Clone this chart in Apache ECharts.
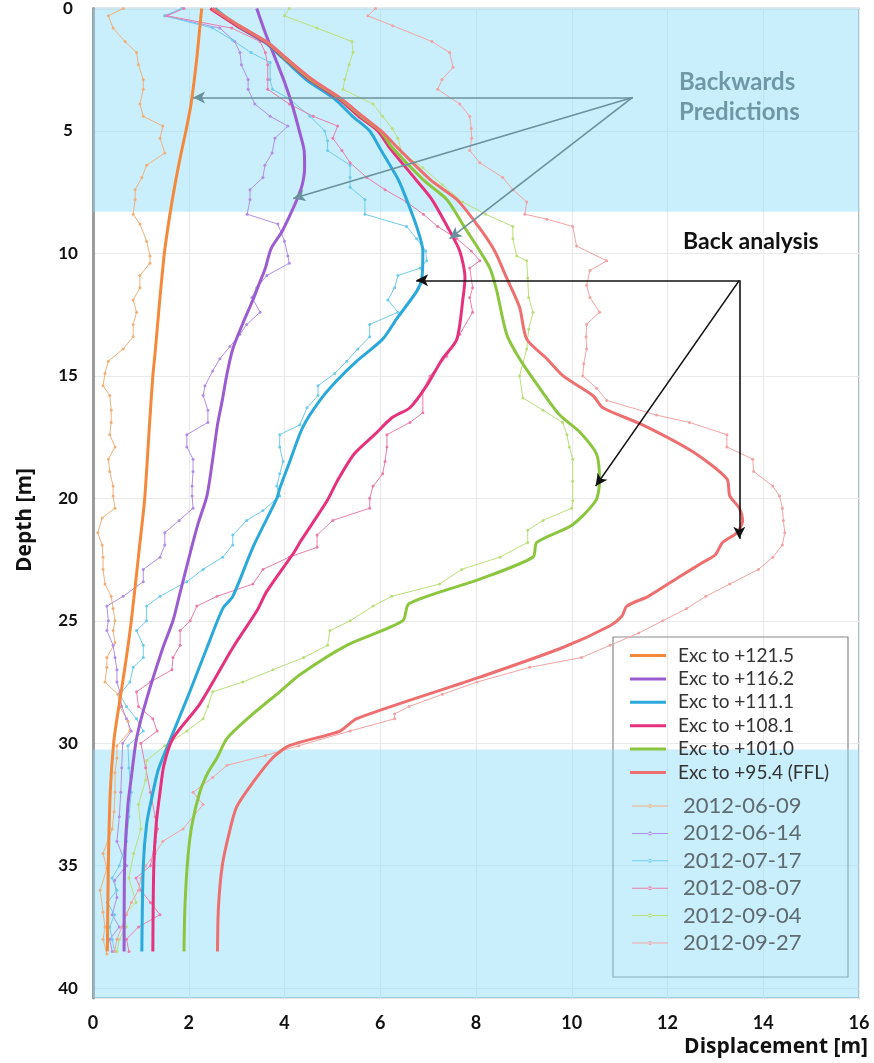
<!DOCTYPE html>
<html>
<head>
<meta charset="utf-8">
<script src="https://cdn.jsdelivr.net/npm/echarts@6/dist/echarts.min.js"></script>
<style>
  html, body { margin: 0; padding: 0; background: #fff; }
  #chart { width: 874px; height: 1063px; }
</style>
</head>
<body>
<div id="chart"></div>
<script>
// Axis ticks
const dispTicks = [0, 2, 4, 6, 8, 10, 12, 14, 16];
const depthTicks = [0, 5, 10, 15, 20, 25, 30, 35, 40];

// Model profiles after each excavation stage: [displacement m, depth m]
const exc1215 = [[2.27,0],[2.22,1],[2.17,2],[2.11,3],[2.04,4],[1.94,5],[1.83,6],[1.73,7],[1.64,8],[1.56,9],[1.49,10],[1.39,12],[1.30,14],[1.25,15],[1.18,17],[1.08,20],[0.97,22],[0.80,25],[0.66,27],[0.50,29],[0.43,30],[0.36,32],[0.32,35],[0.30,38.5]];
const exc1162 = [[3.42,0],[3.6,1],[3.8,2],[4.0,3],[4.17,4],[4.31,5],[4.41,5.8],[4.42,6.5],[4.37,7.2],[4.26,7.8],[4.1,8.5],[3.95,9.1],[3.72,9.8],[3.6,10.6],[3.48,11.2],[3.34,11.9],[3.12,12.9],[2.92,13.9],[2.8,14.9],[2.7,16],[2.6,17],[2.5,18.4],[2.38,19.9],[2.2,21],[2.06,22],[1.8,24],[1.67,25],[1.46,26.1],[1.12,28.2],[0.91,29.8],[0.8,31.4],[0.73,32.5],[0.66,35],[0.65,38.5]];
const exc1111 = [[2.55,0],[3.0,0.7],[3.6,1.4],[3.95,2],[4.45,2.9],[5.05,3.7],[5.42,4.4],[5.78,5],[6.02,5.8],[6.38,7],[6.55,7.8],[6.76,8.9],[6.89,9.9],[6.87,11],[6.76,11.55],[6.35,12.65],[6.05,13.5],[5.51,14.4],[5.09,15.2],[4.74,16],[4.38,17.1],[4.11,18.5],[3.9,19.6],[3.84,20],[3.34,22],[2.92,24],[2.71,24.5],[2.38,26.1],[1.96,28.2],[1.54,30.2],[1.36,31.1],[1.22,32.3],[1.12,33.3],[1.05,35],[1.02,38.5]];
const exc1081 = [[2.45,0],[3.0,0.7],[3.62,1.4],[3.98,2],[4.52,2.9],[5.14,3.7],[5.55,4.4],[5.95,5],[6.2,5.7],[6.75,7],[7.08,7.8],[7.4,8.9],[7.66,9.9],[7.77,11],[7.73,11.8],[7.6,13.5],[7.3,14.3],[6.97,15.4],[6.62,16.3],[6.25,16.7],[5.88,17.4],[5.45,18.2],[5.1,19.3],[4.89,20.1],[4.32,21.8],[4.2,22.2],[3.63,23.8],[3.42,24.6],[2.92,26.1],[2.23,28.4],[1.67,29.8],[1.48,30.9],[1.4,32],[1.32,33.3],[1.27,35],[1.25,38.5]];
const exc1010 = [[2.5,0],[3.05,0.7],[3.65,1.4],[4.0,2],[4.55,2.9],[5.18,3.7],[5.6,4.4],[6.0,5],[6.26,5.7],[6.9,7],[7.39,7.8],[7.75,8.9],[8.08,9.9],[8.29,10.6],[8.43,11.5],[8.64,13.3],[8.91,14.3],[9.33,15.5],[9.75,16.6],[10.17,17.3],[10.52,18.2],[10.58,19.3],[10.5,20.1],[10.0,21.1],[9.27,21.8],[9.19,22.4],[8.08,23.3],[6.6,24.3],[6.47,25],[5.3,26],[4.32,27.2],[3.9,27.9],[3.28,28.9],[2.8,29.8],[2.59,30.6],[2.4,31.2],[2.23,32],[2.07,33.3],[1.98,34.7],[1.92,36.7],[1.9,38.5]];
const exc954 = [[2.5,0],[3.05,0.7],[3.66,1.4],[4.02,2],[4.58,2.9],[5.2,3.7],[5.63,4.4],[6.02,5],[6.37,5.7],[7.05,7],[7.6,7.8],[8.05,8.9],[8.39,9.9],[8.64,11],[8.91,12.2],[9.06,13.5],[9.48,14.3],[9.82,15],[10.44,15.8],[10.65,16.3],[11.48,17],[12.53,18.1],[13.24,19.2],[13.3,19.9],[13.5,20.4],[13.57,20.9],[13.45,21.4],[13.15,21.8],[13.0,22.3],[12.75,22.6],[12.25,23.2],[11.6,24],[11.15,24.4],[11.05,24.8],[10.8,25.2],[9.8,26.1],[8.08,27.3],[5.5,29],[5.16,29.5],[4.1,30.1],[3.75,30.6],[3.34,31.6],[3.0,32.6],[2.84,33.7],[2.7,35],[2.62,36.7],[2.6,38.5]];

// Inclinometer readings: [displacement m, depth m]
const m0609 = [[0.63,0],[0.32,0.3],[0.42,0.8],[0.67,1.35],[0.91,1.8],[0.95,2.3],[1.05,2.9],[1.05,3.3],[0.98,3.9],[1.05,4.4],[1.46,4.8],[1.4,5.3],[1.5,5.9],[1.12,6.4],[1.02,6.9],[0.88,7.4],[0.88,7.8],[0.84,8.4],[0.98,8.8],[1.12,9.5],[1.19,10.1],[1.19,10.4],[0.98,10.9],[0.98,11.4],[0.84,11.9],[0.91,12.4],[0.84,12.9],[0.84,13.4],[0.63,13.9],[0.32,14.4],[0.25,14.9],[0.21,15.4],[0.35,15.8],[0.38,16.4],[0.38,16.9],[0.35,17.4],[0.46,17.9],[0.32,18.4],[0.35,18.9],[0.42,19.5],[0.42,19.9],[0.46,20.4],[0.19,20.8],[0.1,21.4],[0.19,21.9],[0.21,22.4],[0.21,22.9],[0.25,23.5],[0.38,24],[0.42,24.5],[0.46,25],[0.42,25.4],[0.46,25.9],[0.29,26.5],[0.29,26.9],[0.25,27.5],[0.52,28],[0.56,28.5],[0.73,29.1],[0.77,29.5],[0.5,30.1],[0.5,30.6],[0.46,31.2],[0.46,32],[0.44,32.8],[0.4,33.5],[0.21,34.5],[0.29,35.1],[0.15,36],[0.21,36.9],[0.25,37.5],[0.21,38],[0.29,38.6]];
const m0614 = [[1.86,0],[1.5,0.3],[2.65,0.8],[2.96,1.35],[3.07,1.8],[3.1,2.3],[3.24,2.9],[3.24,3.3],[3.38,3.9],[3.7,4.4],[4.07,4.8],[3.8,5.3],[3.74,5.9],[3.59,6.4],[3.55,6.9],[3.28,7.4],[3.28,7.8],[3.22,8.4],[3.86,8.8],[4.0,9.5],[4.07,10.1],[4.1,10.4],[3.63,10.9],[3.42,11.4],[3.32,11.8],[3.49,12.4],[3.21,12.9],[3.07,13.3],[2.86,13.8],[2.65,14.3],[2.5,14.8],[2.34,15.4],[2.3,15.8],[2.4,16.4],[2.4,16.9],[1.96,17.4],[1.96,17.9],[2.09,18.4],[2.09,18.9],[2.07,19.5],[2.07,19.9],[2.09,20.4],[1.8,20.9],[1.5,21.4],[1.5,21.9],[1.4,22.4],[1.05,22.9],[1.05,23.4],[0.63,24],[0.29,24.4],[0.32,25],[0.29,25.4],[0.42,26],[0.46,26.5],[0.5,27],[0.5,27.5],[0.56,27.9],[0.6,28.5],[0.7,29],[0.8,29.5],[0.62,30],[0.6,31],[0.58,32],[0.55,33],[0.5,34],[0.7,35],[0.45,35.6],[0.5,36.3],[0.4,37],[0.55,37.5],[0.35,38],[0.4,38.5]];
const m0717 = [[1.85,0],[1.5,0.3],[2.5,0.8],[2.92,1.3],[3.3,1.8],[3.7,2.2],[3.7,2.9],[3.75,3.3],[4.11,3.7],[4.53,4.4],[4.84,5.0],[4.9,5.4],[4.9,5.8],[5.37,6.4],[5.37,6.9],[5.37,7.3],[5.68,7.8],[5.68,8.4],[6.55,8.9],[6.76,9.4],[6.95,9.9],[6.97,10.3],[6.83,10.6],[6.37,10.9],[6.3,11.4],[6.16,11.9],[6.37,12.4],[5.78,12.9],[5.78,13.4],[5.53,13.9],[5.3,14.4],[5.05,14.9],[4.7,15.4],[4.7,15.8],[4.47,16.3],[4.32,17],[3.9,17.4],[3.9,17.9],[3.97,18.5],[3.9,19],[3.84,19.5],[3.9,19.9],[3.55,20.5],[3.21,20.9],[2.92,21.5],[2.92,21.9],[2.71,22.4],[2.3,22.9],[1.96,23.4],[1.4,24],[1.12,24.4],[1.12,25],[0.91,25.4],[1.05,26],[1.05,26.5],[0.84,26.9],[0.77,27.5],[0.56,28],[0.7,28.5],[0.91,29],[1.05,29.5],[0.73,30.1],[0.75,31],[0.8,32],[0.75,33],[0.7,34],[0.55,35],[0.4,35.5],[0.5,36],[0.3,36.5],[0.45,37],[0.35,37.5],[0.4,38],[0.45,38.5]];
const m0807 = [[1.9,0],[1.55,0.3],[2.9,0.8],[3.49,1.35],[3.6,1.8],[3.65,2.3],[3.65,2.9],[3.65,3.3],[4.1,3.9],[4.6,4.4],[5.11,4.8],[5.01,5.3],[5.2,5.8],[5.37,6.3],[5.72,6.9],[6.1,7.4],[6.55,7.9],[6.9,8.4],[7.2,8.9],[7.6,9.4],[7.9,9.9],[8.08,10.3],[7.87,10.6],[7.93,11.4],[7.87,11.8],[7.93,12.4],[7.66,13.3],[7.39,14.2],[7.04,15],[6.89,15.6],[6.89,16.5],[6.62,16.9],[6.14,17.4],[6.14,17.9],[6.1,18.5],[6.05,19],[5.85,19.5],[5.78,20],[5.78,20.4],[5.01,20.9],[4.68,21.5],[4.68,22],[4.1,22.4],[3.55,22.9],[3.34,23.5],[2.59,24],[2.17,24.4],[2.03,25],[1.82,25.4],[1.82,26],[1.67,26.5],[1.65,27],[1.2,27.5],[0.91,27.9],[0.95,28.5],[1.25,29],[1.34,29.5],[1.0,30],[1.1,31],[1.2,32],[1.3,33],[1.35,33.5],[1.3,34],[1.2,35],[0.9,35.5],[1.0,36],[1.2,36.5],[1.4,37],[0.95,37.5],[0.7,38],[0.75,38.5]];
const m0904 = [[4.1,0],[4.0,0.3],[4.68,0.8],[5.41,1.35],[5.43,1.8],[5.35,2.3],[5.26,2.9],[5.22,3.3],[5.85,3.9],[6.05,4.4],[6.25,4.9],[6.37,5.3],[6.45,5.9],[6.89,6.5],[7.3,7.2],[7.72,7.9],[8.2,8.4],[8.77,8.9],[8.77,9.4],[8.85,10.1],[9.06,10.3],[9.08,11],[9.1,11.8],[9.19,12.4],[9.1,13.1],[9.06,13.9],[8.91,15],[8.98,15.9],[9.4,16.4],[9.81,16.9],[9.9,17.4],[9.95,17.9],[10.02,18.4],[10.02,19.3],[10.02,20.1],[10.0,20.4],[9.4,20.9],[9.08,21.3],[9.08,21.8],[8.5,22.4],[7.7,22.9],[7.24,23.5],[6.24,24],[5.85,24.4],[5.37,25],[4.95,25.4],[4.9,26],[4.4,26.5],[3.76,27],[3.13,27.5],[2.5,27.9],[2.4,28.5],[2.3,29],[1.96,29.5],[1.5,30.1],[1.12,30.7],[1.1,31.5],[0.95,32.5],[1.0,33.5],[0.85,34.5],[0.75,35.5],[0.9,36.5],[0.65,37],[0.7,37.5],[0.55,38],[0.5,38.5]];
const m0927 = [[5.9,0],[5.74,0.3],[6.26,0.7],[7.08,1.35],[7.45,1.8],[7.52,2.4],[7.29,2.9],[7.2,3.3],[7.66,3.9],[7.87,4.4],[7.9,4.9],[7.91,5.3],[7.87,5.8],[8.08,6.3],[8.56,6.9],[8.77,7.4],[9.06,7.9],[9.02,8.4],[9.48,8.6],[10.02,8.9],[10.1,9.7],[10.73,10.3],[10.38,10.7],[10.31,11.3],[10.38,11.8],[10.58,12.4],[10.31,12.9],[10.3,13.4],[10.31,13.9],[10.25,14.5],[10.23,15],[10.52,15.5],[10.73,16],[11.77,16.6],[12.46,16.9],[13.24,17.4],[13.24,17.9],[13.78,18.4],[13.8,18.9],[14.2,19.5],[14.34,19.9],[14.4,20.4],[14.42,20.9],[14.45,21.4],[14.4,21.9],[14.2,22.4],[13.9,22.9],[13.3,23.5],[12.8,24],[12.4,24.5],[11.9,25],[11.4,25.5],[10.8,26],[10.2,26.5],[9.12,26.9],[8.02,27.5],[7.3,28],[6.6,28.5],[6.3,28.8],[6.3,29],[5.37,29.5],[4.3,30.1],[3.6,30.5],[2.8,30.9],[2.5,31.4],[2.09,32],[2.3,32.5],[1.88,33.5],[1.46,34],[1.3,34.5],[1.1,35],[1.0,35.5],[0.95,36],[0.8,36.5],[0.7,37],[0.6,37.5],[0.5,38],[0.45,38.5]];

// Shaded depth zones (prediction zone above, toe zone below)
const bandTop = [0, 8.3];
const bandBottom = [30.25, 40.4];

// Annotation arrows: [from, to] in [displacement, depth]
const predictionArrows = [[[11.27,3.63],[2.09,3.63]], [[11.27,3.63],[4.18,7.76]], [[11.27,3.63],[7.45,9.4]]];
const analysisArrows = [[[13.5,11.1],[6.75,11.1]], [[13.5,11.1],[10.5,19.5]], [[13.5,11.1],[13.5,21.65]]];

const modelNames = ['Exc to +121.5', 'Exc to +116.2', 'Exc to +111.1', 'Exc to +108.1', 'Exc to +101.0', 'Exc to +95.4 (FFL)'];
const modelData = [exc1215, exc1162, exc1111, exc1081, exc1010, exc954];
const modelColors = ['#F4893B', '#9A5CD0', '#2AA9DA', '#E6317D', '#8CC63E', '#EE6F6F'];

const dateNames = ['2012-06-09', '2012-06-14', '2012-07-17', '2012-08-07', '2012-09-04', '2012-09-27'];
const dateData = [m0609, m0614, m0717, m0807, m0904, m0927];
const dateColors = ['#EFB07A', '#B18EE6', '#6FCBEC', '#EA7DAC', '#BADF78', '#F2A3A3'];

const font = 'Lato, "Open Sans", sans-serif';
const titleFont = '"Open Sans", Lato, sans-serif';

// legend glyphs: thick bar for model stages, thin line with a dot for readings
const modelIcon = 'path://M0,0L36,0L36,3L0,3Z';
const dateIcon = 'path://M0,1.5L36,1.5L36,2.5L0,2.5Z M16,2a2,2 0 1,0 4,0a2,2 0 1,0 -4,0Z';

const series = [];
dateNames.forEach((n, i) => {
  series.push({
    name: n, type: 'line', data: dateData[i], z: 2,
    symbol: 'circle', symbolSize: 3, showSymbol: true,
    lineStyle: { width: 1, color: dateColors[i] },
    itemStyle: { color: dateColors[i] },
    emphasis: { disabled: true }
  });
});
modelNames.forEach((n, i) => {
  series.push({
    name: n, type: 'line', data: modelData[i], z: 3,
    smooth: 0.25, showSymbol: false, symbol: 'none',
    lineStyle: { width: 3, color: modelColors[i] },
    itemStyle: { color: modelColors[i] },
    emphasis: { disabled: true }
  });
});
// translucent blue zones drawn over the profiles
series.push({
  name: 'zones', type: 'line', data: [], z: 10, silent: true,
  markArea: {
    silent: true,
    itemStyle: { color: 'rgba(138,220,248,0.45)' },
    data: [
      [{ yAxis: bandTop[0] }, { yAxis: bandTop[1] }],
      [{ yAxis: bandBottom[0] }, { yAxis: bandBottom[1] }]
    ]
  }
});
// arrows
const arrowLines = [];
predictionArrows.forEach(a => arrowLines.push([{ coord: a[0], lineStyle: { color: '#6A919C', width: 1.6 } }, { coord: a[1] }]));
analysisArrows.forEach(a => arrowLines.push([{ coord: a[0], lineStyle: { color: '#111111', width: 1.6 } }, { coord: a[1] }]));
series.push({
  name: 'arrows', type: 'line', data: [], z: 12, silent: true,
  markLine: {
    silent: true, animation: false,
    symbol: ['none', 'arrow'], symbolSize: [9, 12],
    label: { show: false },
    lineStyle: { type: 'solid' },
    data: arrowLines
  }
});

const chart = echarts.init(document.getElementById('chart'));
chart.setOption({
  animation: false,
  backgroundColor: '#ffffff',
  grid: { left: 93, right: 15, top: 7, bottom: 65, show: true, borderColor: '#8FA9B3', borderWidth: 1.5 },
  xAxis: {
    type: 'value', min: dispTicks[0], max: dispTicks[dispTicks.length - 1], interval: 2,
    axisLine: { show: false }, axisTick: { show: false },
    splitLine: { show: true, lineStyle: { color: '#E9E9E9', width: 1 } },
    axisLabel: { margin: 16, color: '#111', fontFamily: font, fontWeight: 'bold', fontSize: 18 }
  },
  yAxis: {
    type: 'value', inverse: true, min: depthTicks[0], max: bandBottom[1], interval: 5,
    axisLine: { show: true, lineStyle: { color: '#9C9C9C', width: 3 } }, axisTick: { show: false },
    splitLine: { show: true, lineStyle: { color: '#E9E9E9', width: 1 } },
    axisLabel: { margin: 25, align: 'center', showMaxLabel: false, color: '#111', fontFamily: font, fontWeight: 'bold', fontSize: 17 }
  },
  legend: [
    {
      data: modelNames.map(n => ({ name: n, icon: modelIcon })),
      orient: 'vertical', left: 630, top: 646, padding: 0,
      itemWidth: 36, itemHeight: 3, itemGap: 4.4, selectedMode: false,
      textStyle: { fontFamily: font, fontSize: 19, color: '#333', padding: [0, 0, 0, 7] }
    },
    {
      data: dateNames.map(n => ({ name: n, icon: dateIcon })),
      orient: 'vertical', left: 632, top: 795, padding: 0,
      itemWidth: 36, itemHeight: 4, itemGap: 5.4, selectedMode: false,
      textStyle: { fontFamily: font, fontSize: 22, color: '#5E6B70', padding: [0, 0, 0, 10] }
    }
  ],
  graphic: [
    { type: 'rect', z: 1, shape: { x: 613, y: 637, width: 235, height: 340 }, style: { fill: 'rgba(0,0,0,0)', stroke: '#8A8A8A', lineWidth: 1.2 } },
    { type: 'text', z: 100, x: 679, y: 82, style: { text: 'Backwards', fill: '#6E98A6', font: 'bold 24px ' + font, textVerticalAlign: 'middle' } },
    { type: 'text', z: 100, x: 679, y: 112, style: { text: 'Predictions', fill: '#6E98A6', font: 'bold 24px ' + font, textVerticalAlign: 'middle' } },
    { type: 'text', z: 100, x: 683, y: 242, style: { text: 'Back analysis', fill: '#111', font: 'bold 23px ' + font, textVerticalAlign: 'middle' } },
    { type: 'text', z: 100, x: 25, y: 520, rotation: Math.PI / 2, style: { text: 'Depth [m]', fill: '#111', font: 'bold 21px ' + titleFont, textAlign: 'center', textVerticalAlign: 'middle' } },
    { type: 'text', z: 100, x: 868, y: 1047, style: { text: 'Displacement [m]', fill: '#111', font: 'bold 21px ' + titleFont, textAlign: 'right', textVerticalAlign: 'middle' } }
  ],
  series: series
});
</script>
</body>
</html>
